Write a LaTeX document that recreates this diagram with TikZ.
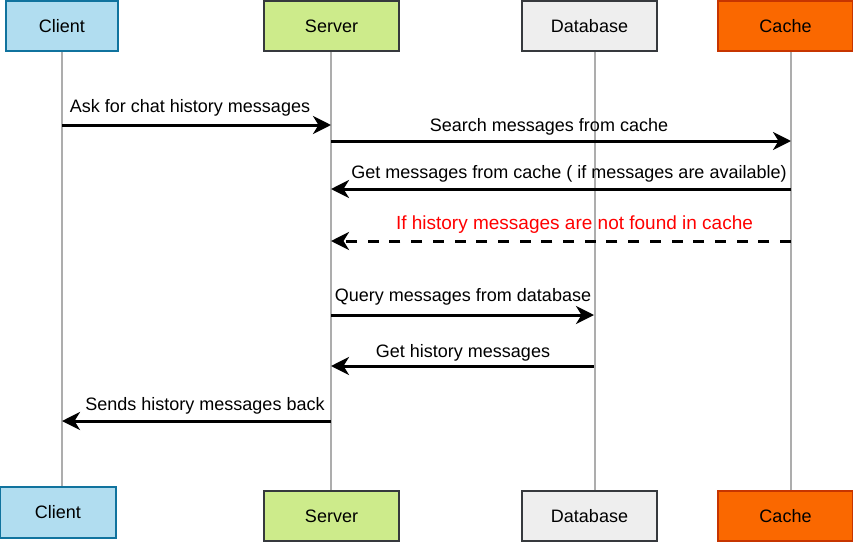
\documentclass[tikz,border=0pt]{standalone}
\usepackage{fontspec}
\setmainfont{Liberation Sans}
\usetikzlibrary{arrows.meta}
\definecolor{clientfill}{HTML}{B1DDF0}
\definecolor{clientdraw}{HTML}{10739E}
\definecolor{serverfill}{HTML}{CDEB8B}
\definecolor{darkdraw}{HTML}{36393D}
\definecolor{dbfill}{HTML}{EEEEEE}
\definecolor{cachefill}{HTML}{FA6800}
\definecolor{cachedraw}{HTML}{C73500}
\definecolor{lifegray}{HTML}{ADADAD}
\tikzset{
  actor/.style={draw, line width=1.3pt, inner sep=0pt, font=\fontsize{18}{21}\selectfont},
  lifeline/.style={draw=lifegray, line width=2.7pt},
  msg/.style={line width=3pt, -{Stealth[length=18pt,width=18pt,inset=5.5pt]}},
  dashmsg/.style={msg, dash pattern=on 11pt off 10.7pt},
  lbl/.style={inner sep=0pt, font=\fontsize{18}{21}\selectfont},
  redlbl/.style={lbl, text=red, font=\fontsize{19}{22}\selectfont}
}
\begin{document}
\begin{tikzpicture}[x=1pt,y=-1pt]
\useasboundingbox (0,0) rectangle (853,541);
% lifeline tops / bottoms
\coordinate (cl0) at (62,51);  \coordinate (cl1) at (62,487);
\coordinate (sl0) at (331,51); \coordinate (sl1) at (331,491);
\coordinate (dl0) at (595,51); \coordinate (dl1) at (595,491);
\coordinate (kl0) at (791,51); \coordinate (kl1) at (791,491);
\draw[lifeline] (cl0) -- (cl1);
\draw[lifeline] (sl0) -- (sl1);
\draw[lifeline] (dl0) -- (dl1);
\draw[lifeline] (kl0) -- (kl1);
% top actors
\node[actor, fill=clientfill, draw=clientdraw, minimum width=112pt, minimum height=50pt] (ct) at (62,26) {Client};
\node[actor, fill=serverfill, draw=darkdraw, minimum width=135pt, minimum height=50pt] (st) at (331.5,26) {Server};
\node[actor, fill=dbfill, draw=darkdraw, minimum width=135pt, minimum height=50pt] (dt) at (589.5,26) {Database};
\node[actor, fill=cachefill, draw=cachedraw, minimum width=135pt, minimum height=50pt] (kt) at (785.5,26) {Cache};
% bottom actors
\node[actor, fill=clientfill, draw=clientdraw, minimum width=116pt, minimum height=51pt] (cb) at (58,512.5) {Client};
\node[actor, fill=serverfill, draw=darkdraw, minimum width=135pt, minimum height=50pt] (sb) at (331.5,516) {Server};
\node[actor, fill=dbfill, draw=darkdraw, minimum width=135pt, minimum height=50pt] (db) at (589.5,516) {Database};
\node[actor, fill=cachefill, draw=cachedraw, minimum width=135pt, minimum height=50pt] (kb) at (785.5,516) {Cache};
% message points
\coordinate (m1a) at (62,125);  \coordinate (m1b) at (331,125);
\coordinate (m2a) at (331,141); \coordinate (m2b) at (791,141);
\coordinate (m3a) at (791,189); \coordinate (m3b) at (331,189);
\coordinate (m4a) at (791,241); \coordinate (m4b) at (331,241);
\coordinate (m5a) at (331,315); \coordinate (m5b) at (594,315);
\coordinate (m6a) at (594,366); \coordinate (m6b) at (331,366);
\coordinate (m7a) at (331,421); \coordinate (m7b) at (62,421);
\draw[msg] (m1a) -- (m1b);
\draw[msg] (m2a) -- (m2b);
\draw[msg] (m3a) -- (m3b);
\draw[dashmsg] (m4a) -- (m4b);
\draw[msg] (m5a) -- (m5b);
\draw[msg] (m6a) -- (m6b);
\draw[msg] (m7a) -- (m7b);
% labels
\node[lbl] (l1) at (190,108) {Ask for chat history messages};
\node[lbl] (l2) at (549,127) {Search messages from cache};
\node[lbl] (l3) at (569,174) {Get messages from cache ( if messages are available)};
\node[redlbl] (l4) at (574.5,225) {If history messages are not found in cache};
\node[lbl] (l5) at (463,297) {Query messages from database};
\node[lbl] (l6) at (463,353) {Get history messages};
\node[lbl] (l7) at (205,406) {Sends history messages back};
\end{tikzpicture}
\end{document}
